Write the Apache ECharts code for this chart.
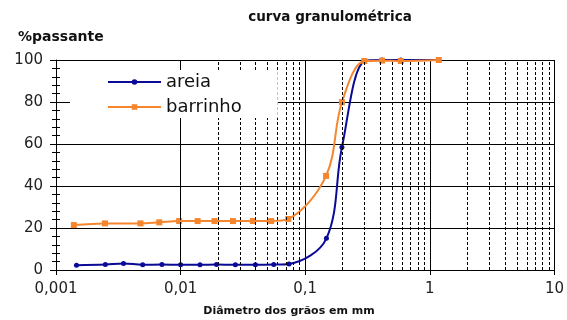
<!DOCTYPE html>
<html>
<head>
<meta charset="utf-8">
<script src="https://cdn.jsdelivr.net/npm/echarts@6/dist/echarts.min.js"></script>
<style>html,body{margin:0;padding:0;background:#fff}#c{width:567px;height:320px}</style>
</head>
<body>
<div id="c"></div>
<script>
const xTickLabels = ['0,001', '0,01', '0,1', '1', '10'];
const areiaD = [0.00146, 0.00249, 0.00348, 0.00496, 0.00708, 0.0100, 0.0143, 0.0194, 0.0275, 0.0398, 0.0559, 0.0741, 0.148, 0.197, 0.299, 0.413, 0.585, 1.18];
const areiaP = [2.3, 2.6, 3.1, 2.5, 2.6, 2.5, 2.5, 2.6, 2.5, 2.5, 2.6, 2.9, 15.1, 58.4, 99.5, 100, 100, 100];
const barrD = [0.00139, 0.00247, 0.00476, 0.00674, 0.00973, 0.0137, 0.0187, 0.0263, 0.038, 0.0533, 0.0732, 0.147, 0.197, 0.298, 0.413, 0.585, 1.18];
const barrP = [21.4, 22.2, 22.2, 22.7, 23.3, 23.3, 23.3, 23.3, 23.3, 23.3, 24.3, 44.8, 79.9, 99.5, 99.7, 99.5, 100];
const decades = [0.001, 0.01, 0.1, 1];
const mults = [2, 3, 4, 5, 6, 7, 8, 9];

const minorLines = [];
decades.forEach(d => mults.forEach(m => minorLines.push({ xAxis: +(d * m).toPrecision(3) })));

const blue = '#0a0a96';
const orange = '#f5862e';
const font = 'DejaVu Sans';

const chart = echarts.init(document.getElementById('c'));
chart.setOption({
  animation: false,
  grid: { left: 56, right: 9, top: 60, bottom: 50, containLabel: false },
  graphic: [
    { type: 'text', style: { text: 'curva granulométrica', x: 330, y: 17, textAlign: 'center', textVerticalAlign: 'middle', font: 'bold 13.5px "DejaVu Sans"', fill: '#111' } },
    { type: 'text', style: { text: '%passante', x: 18, y: 37, textAlign: 'left', textVerticalAlign: 'middle', font: 'bold 14px "DejaVu Sans"', fill: '#111' } },
    { type: 'text', style: { text: 'Diâmetro dos grãos em mm', x: 289, y: 311, textAlign: 'center', textVerticalAlign: 'middle', font: 'bold 11px "DejaVu Sans"', fill: '#111' } }
  ],
  legend: {
    orient: 'vertical', left: 70, top: 70, z: 20,
    padding: [3, 36, 2, 37], itemGap: 7, itemWidth: 53, itemHeight: 7,
    backgroundColor: '#fff',
    textStyle: { fontSize: 18, fontFamily: font, color: '#111' },
    data: ['areia', 'barrinho']
  },
  xAxis: {
    type: 'log', logBase: 10, min: 0.001, max: 10,
    axisLine: { show: true, lineStyle: { color: '#000', width: 1 } },
    axisTick: { show: true, length: 5, lineStyle: { color: '#000' } },
    splitLine: { show: true, lineStyle: { color: '#000', width: 1, type: 'solid' } },
    axisLabel: {
      fontSize: 15, fontFamily: font, color: '#222', margin: 12,
      formatter: v => xTickLabels[Math.round(Math.log10(v)) + 3]
    }
  },
  yAxis: [
    {
      type: 'value', min: 0, max: 100, interval: 20,
      axisLine: { show: true, lineStyle: { color: '#000', width: 1 } },
      axisTick: { show: true, length: 6, lineStyle: { color: '#000' } },
      minorTick: { show: true, splitNumber: 5, length: 4, lineStyle: { color: '#000' } },
      splitLine: { show: true, lineStyle: { color: '#000', width: 1 } },
      axisLabel: { fontSize: 15, fontFamily: font, color: '#222', margin: 13 }
    },
    {
      type: 'value', min: 0, max: 100, interval: 20, position: 'left', offset: 0,
      axisLine: { show: false },
      axisTick: { show: false, inside: true },
      minorTick: { show: true, splitNumber: 5, length: 4, lineStyle: { color: '#000' } },
      splitLine: { show: false },
      axisLabel: { show: false }
    }
  ],
  series: [
    {
      name: 'grid', type: 'line', data: [], z: 1, silent: true,
      markLine: {
        silent: true, symbol: 'none', label: { show: false },
        lineStyle: { color: '#000', width: 1, type: [3, 2] },
        data: minorLines
      }
    },
    {
      name: 'areia', type: 'line', smooth: 0.35,
      data: areiaD.map((d, i) => [d, areiaP[i]]),
      symbol: 'circle', symbolSize: 5,
      lineStyle: { color: blue, width: 2 }, itemStyle: { color: blue }
    },
    {
      name: 'barrinho', type: 'line', smooth: 0.35,
      data: barrD.map((d, i) => [d, barrP[i]]),
      symbol: 'rect', symbolSize: 6,
      lineStyle: { color: orange, width: 2 }, itemStyle: { color: orange }
    }
  ]
});
</script>
</body>
</html>
